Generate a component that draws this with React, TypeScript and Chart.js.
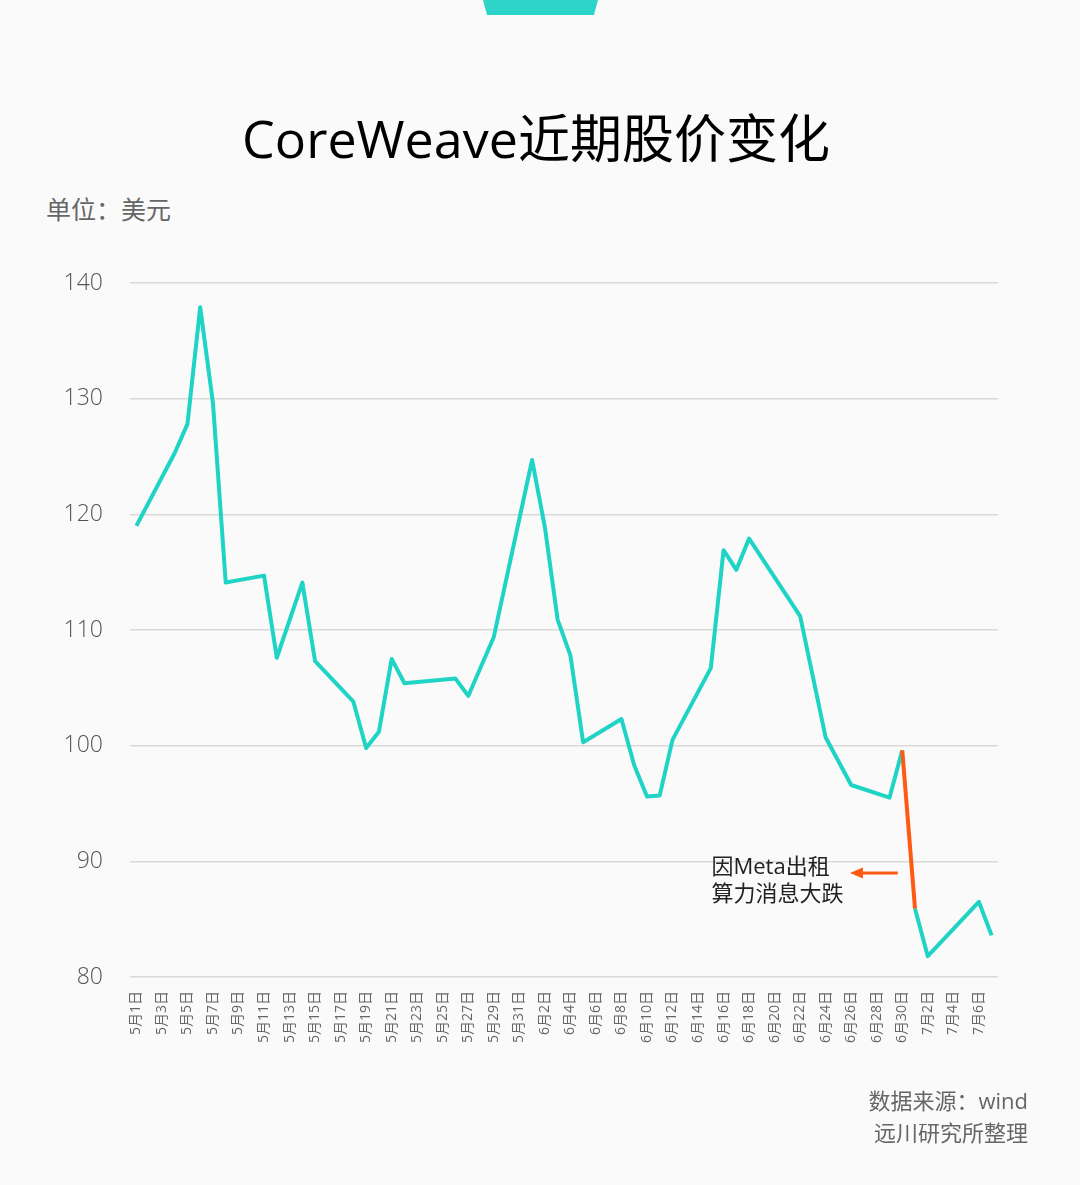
import React, { useEffect, useRef } from "react";
import { Chart, registerables } from "chart.js";

Chart.register(...registerables);

const dateLabels: string[] = [
  "5月1日", "5月2日", "5月3日", "5月4日", "5月5日", "5月6日", "5月7日", "5月8日", "5月9日", "5月10日",
  "5月11日", "5月12日", "5月13日", "5月14日", "5月15日", "5月16日", "5月17日", "5月18日", "5月19日", "5月20日",
  "5月21日", "5月22日", "5月23日", "5月24日", "5月25日", "5月26日", "5月27日", "5月28日", "5月29日", "5月30日",
  "5月31日", "6月1日", "6月2日", "6月3日", "6月4日", "6月5日", "6月6日", "6月7日", "6月8日", "6月9日",
  "6月10日", "6月11日", "6月12日", "6月13日", "6月14日", "6月15日", "6月16日", "6月17日", "6月18日", "6月19日",
  "6月20日", "6月21日", "6月22日", "6月23日", "6月24日", "6月25日", "6月26日", "6月27日", "6月28日", "6月29日",
  "6月30日", "7月1日", "7月2日", "7月3日", "7月4日", "7月5日", "7月6日", "7月7日",
];

// Share price (USD); null = no data for that day (line spans the gap)
const priceMay: (number | null)[] = [
  119.0, null, null, 125.3, 127.8, 137.9, 129.6, 114.1, null, null,
  114.7, 107.6, null, 114.1, 107.3, null, null, 103.8, 99.8, 101.2,
  107.5, 105.4, null, null, null, 105.8, 104.3, null, 109.4, null,
  null,
];
const priceJune: (number | null)[] = [
  124.7, 118.9, 110.9, 107.8, 100.3, null, null, 102.3, 98.3, 95.6,
  95.7, 100.5, null, null, 106.7, 116.9, 115.2, 117.9, null, null,
  null, 111.2, null, 100.7, null, 96.6, null, null, 95.5, 99.6,
];
const priceJuly: (number | null)[] = [85.9, 81.8, null, null, null, 86.5, 83.6];

const prices = [...priceMay, ...priceJune, ...priceJuly];

const yTicks = { min: 80, max: 140, step: 10 };

const dropStartLabel = "6月30日";
const annotationLines = ["因Meta出租", "算力消息大跌"];
const annotationValue = 89;

const TEAL = "#1fd4c5";
const ORANGE = "#ff5a12";
const FONT = '"Open Sans", "Noto Sans CJK SC", sans-serif';

const annotationPlugin = {
  id: "dropAnnotation",
  afterDatasetsDraw(chart: any) {
    const { ctx, scales } = chart;
    const xs = scales.x;
    const ys = scales.y;
    const idx = dateLabels.indexOf(dropStartLabel);
    const step = xs.getPixelForValue(1) - xs.getPixelForValue(0);
    const y = ys.getPixelForValue(annotationValue);
    const tailX = xs.getPixelForValue(idx) - step * 0.35;
    const tipX = xs.getPixelForValue(idx) - step * 4.1;
    ctx.save();
    ctx.strokeStyle = ORANGE;
    ctx.fillStyle = ORANGE;
    ctx.lineWidth = 3;
    ctx.beginPath();
    ctx.moveTo(tailX, y);
    ctx.lineTo(tipX + 10, y);
    ctx.stroke();
    ctx.beginPath();
    ctx.moveTo(tipX, y);
    ctx.lineTo(tipX + 13, y - 5.5);
    ctx.lineTo(tipX + 13, y + 5.5);
    ctx.closePath();
    ctx.fill();
    ctx.fillStyle = "#222";
    ctx.font = `22px ${FONT}`;
    ctx.textAlign = "left";
    ctx.textBaseline = "middle";
    const textX = xs.getPixelForValue(idx) - step * 14.95;
    ctx.fillText(annotationLines[0], textX, y - 5);
    ctx.fillText(annotationLines[1], textX, y + 22);
    ctx.restore();
  },
};

export default function App() {
  const canvasRef = useRef<HTMLCanvasElement | null>(null);

  useEffect(() => {
    if (!canvasRef.current) return;
    const dropIdx = dateLabels.indexOf(dropStartLabel);
    const chart = new Chart(canvasRef.current, {
      type: "line",
      data: {
        labels: dateLabels,
        datasets: [
          {
            data: prices,
            borderColor: TEAL,
            borderWidth: 4,
            pointRadius: 0,
            pointHoverRadius: 0,
            tension: 0,
            spanGaps: true,
            fill: false,
            borderJoinStyle: "round",
            segment: {
              borderColor: (c: any) => (c.p0DataIndex === dropIdx ? ORANGE : undefined),
            },
          } as any,
        ],
      },
      options: {
        responsive: false,
        animation: false,
        devicePixelRatio: 1,
        layout: { padding: { top: 283, right: 82, bottom: 0, left: 0 } },
        plugins: { legend: { display: false }, tooltip: { enabled: false } },
        scales: {
          x: {
            type: "category",
            offset: true,
            grid: { display: false },
            border: { display: false },
            ticks: {
              autoSkip: false,
              maxRotation: 90,
              minRotation: 90,
              padding: 6,
              color: "#666",
              font: { size: 14, family: FONT },
              callback: (_v: any, i: number) => (i % 2 === 0 ? dateLabels[i] : ""),
            },
            afterFit: (s: any) => {
              s.height = 208;
            },
          },
          y: {
            min: yTicks.min,
            max: yTicks.max,
            grid: { color: "#d9d9d9", lineWidth: 1.5, drawTicks: false },
            border: { display: false },
            ticks: {
              stepSize: yTicks.step,
              padding: 27,
              color: "#555",
              font: { size: 23, family: FONT, weight: "300" as any },
            },
            afterFit: (s: any) => {
              s.width = 130;
            },
          },
        },
      },
      plugins: [annotationPlugin],
    });
    return () => chart.destroy();
  }, []);

  return (
    <div
      style={{
        position: "fixed",
        left: 0,
        top: 0,
        width: 1080,
        height: 1185,
        background: "#fafafa",
        fontFamily: FONT,
        overflow: "hidden",
      }}
    >
      <div
        style={{
          position: "absolute",
          left: 483,
          top: 0,
          width: 115,
          height: 15,
          background: "#2dd5c9",
          clipPath: "polygon(0 0, 100% 0, 96.5% 100%, 3.5% 100%)",
        }}
      />
      <div
        style={{
          position: "absolute",
          left: 0,
          top: 108,
          width: 1072,
          textAlign: "center",
          fontSize: 52,
          lineHeight: "60px",
          color: "#000",
          whiteSpace: "nowrap",
        }}
      >
        CoreWeave近期股价变化
      </div>
      <div
        style={{
          position: "absolute",
          left: 46,
          top: 193,
          fontSize: 25,
          lineHeight: "32px",
          color: "#666",
          whiteSpace: "nowrap",
        }}
      >
        单位：美元
      </div>
      <canvas
        ref={canvasRef}
        width={1080}
        height={1185}
        style={{ position: "absolute", left: 0, top: 0, width: 1080, height: 1185 }}
      />
      <div
        style={{
          position: "absolute",
          right: 52,
          top: 1084,
          fontSize: 22,
          lineHeight: "32px",
          color: "#666",
          textAlign: "right",
          whiteSpace: "nowrap",
        }}
      >
        <div>数据来源：wind</div>
        <div>远川研究所整理</div>
      </div>
    </div>
  );
}
